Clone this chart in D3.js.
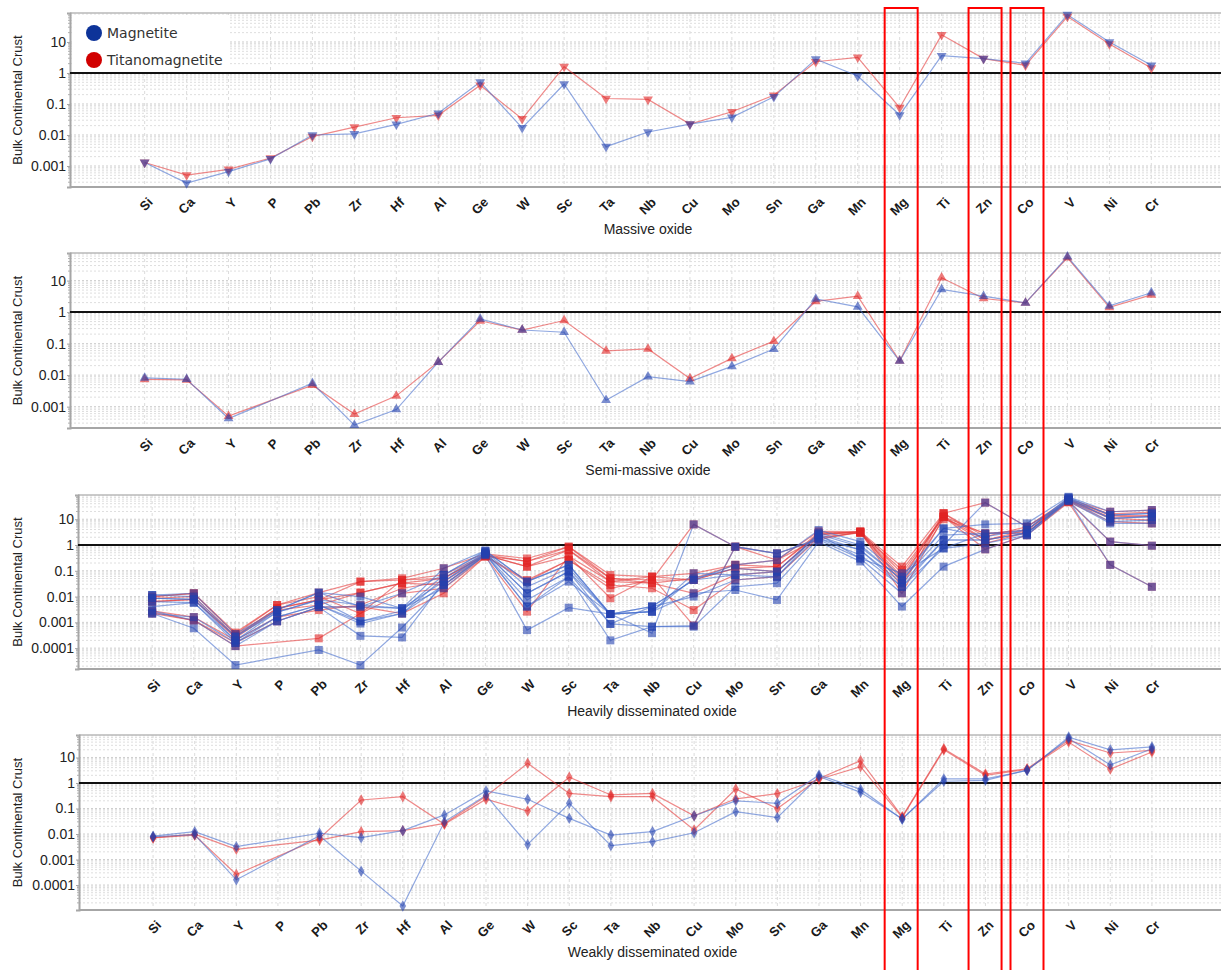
<!DOCTYPE html>
<html>
<head>
<meta charset="utf-8">
<script src="https://cdn.jsdelivr.net/npm/d3@7"></script>
<style>
  body { margin: 0; background: #fff; }
  svg { display: block; }
</style>
</head>
<body>
<svg id="chart" width="1221" height="970"></svg>
<script>
// Element order along the x axis
const elements = ["Si","Ca","Y","P","Pb","Zr","Hf","Al","Ge","W","Sc","Ta","Nb","Cu","Mo","Sn","Ga","Mn","Mg","Ti","Zn","Co","V","Ni","Cr"];

// Labelled ticks on the normalised (bulk continental crust) axis
const yTickValues = [0.0001, 0.001, 0.01, 0.1, 1, 10];
const yTickLabels = ["0.0001", "0.001", "0.01", "0.1", "1", "10"];

// Elements outlined across all panels
const highlighted = ["Mg", "Zn", "Co"];

// Panel titles
const panelTitles = ["Massive oxide", "Semi-massive oxide", "Heavily disseminated oxide", "Weakly disseminated oxide"];

// Legend
const seriesNames = ["Magnetite", "Titanomagnetite"];

// ---- Massive oxide ----
const massiveMagnetite = [
  [0.0013,0.00028,0.00066,0.0017,0.010,0.0108,0.022,0.050,0.51,0.017,0.44,0.0042,0.0125,0.0225,0.037,0.17,2.8,0.80,0.044,3.6,2.9,2.05,76,10,1.77]
];
const massiveTitanomagnetite = [
  [0.0013,0.00051,0.00078,0.0018,0.0089,0.018,0.036,0.043,0.40,0.033,1.6,0.15,0.14,0.0225,0.056,0.19,2.3,3.2,0.076,17,2.9,1.77,66,8.6,1.45]
];

// ---- Semi-massive oxide (no P value) ----
const semiMagnetite = [
  [0.0082,0.0074,0.00042,null,0.0055,0.00026,0.00081,0.026,0.61,0.27,0.23,0.0016,0.0089,0.0062,0.019,0.067,2.6,1.47,0.028,5.2,3.2,1.97,57,1.58,4.1]
];
const semiTitanomagnetite = [
  [0.0073,0.0071,0.0005,null,0.0048,0.00058,0.0022,0.026,0.53,0.27,0.54,0.059,0.068,0.0078,0.034,0.12,2.2,3.2,0.028,12.3,2.7,1.97,53,1.41,3.5]
];

// ---- Heavily disseminated oxide ----
const heavyMagnetite = [
  [0.0115,0.0134,0.00035,0.0030,0.0142,0.010,0.0035,0.125,0.60,0.038,0.17,0.0021,0.0041,0.044,0.17,0.26,3.8,1.35,0.059,4.4,6.3,6.9,74,19.5,22.7],
  [0.0086,0.0078,0.00028,0.0025,0.0074,0.0011,0.0028,0.069,0.55,0.024,0.125,0.0021,0.0026,0.051,0.125,0.093,2.6,0.86,0.044,2.4,2.8,3.8,66,14.5,16.8],
  [0.0064,0.0058,0.0002,0.0016,0.0047,0.0009,0.0022,0.051,0.50,0.0134,0.093,0.00087,0.0041,0.010,0.044,0.059,2.2,0.64,0.033,1.56,1.56,2.8,60,10.8,12.5],
  [0.0041,0.0058,0.00016,0.0011,0.0039,0.0003,0.00026,0.038,0.45,0.0074,0.059,0.0002,0.00068,0.00068,0.024,0.033,1.8,0.41,0.024,0.74,1.16,2.4,56,8.0,9.3],
  [0.0022,0.00059,0.000022,null,0.000085,0.000022,0.00063,0.028,0.40,0.0005,0.0037,0.0021,0.0026,0.0134,0.018,0.0074,1.35,0.23,0.0041,0.145,0.68,2.4,50,6.9,6.9],
  [0.0028,0.0012,0.00012,0.0011,0.0039,0.0041,0.0035,0.021,0.42,0.0041,0.038,0.0021,0.00038,6.3,0.86,0.47,1.6,0.30,0.0134,1.0,44,5.1,52,1.35,0.94],
  [0.0022,0.0016,0.00016,0.0016,0.0047,0.0011,0.0022,0.028,0.45,0.0041,0.059,0.00087,0.00068,0.00075,0.86,0.47,1.8,0.64,0.024,1.56,1.56,3.0,55,0.17,0.024],
  [0.0115,0.0100,0.00028,0.0030,0.0142,0.0041,0.0134,0.069,0.60,0.038,0.17,0.0021,0.0041,0.044,0.069,0.059,3.0,1.0,0.044,4.4,2.1,3.8,70,14.5,16.8],
  [0.0086,0.0078,0.0002,0.0025,0.0074,0.0047,0.0035,0.038,0.50,0.0134,0.093,0.0021,0.0026,0.08,0.069,0.093,2.6,0.30,0.08,0.74,2.8,2.8,62,10.8,12.5]
];
const heavyTitanomagnetite = [
  [0.0100,0.0134,0.0004,0.0047,0.0142,0.038,0.051,0.125,0.45,0.30,0.86,0.069,0.059,0.08,0.17,0.26,3.4,3.3,0.145,17,2.1,5.1,60,19.5,22.7],
  [0.0086,0.0100,0.0003,0.0035,0.0074,0.038,0.044,0.069,0.42,0.23,0.64,0.051,0.044,0.044,0.125,0.145,3.0,3.0,0.107,12.5,1.56,3.8,55,14.5,12.5],
  [0.0064,0.0078,0.00025,0.0030,0.0047,0.0142,0.033,0.051,0.40,0.145,0.37,0.038,0.033,0.0134,0.069,0.093,2.4,3.3,0.08,12.5,2.8,3.0,50,10.8,9.3],
  [0.0028,0.0016,0.0002,0.0016,0.0030,0.0047,0.021,0.038,0.38,0.044,0.26,0.028,0.021,0.003,0.044,0.059,2.0,3.0,0.059,12.5,1.16,3.0,48,8.0,6.9],
  [0.0025,0.0012,0.00012,null,0.00024,0.0022,0.0134,0.021,0.35,0.0026,0.37,0.0086,0.059,0.00075,0.86,0.47,1.6,3.3,0.0134,12.5,0.68,2.4,45,0.17,0.024],
  [0.0022,0.0012,0.00016,0.0011,0.0039,0.0041,0.0022,0.0134,0.36,0.038,0.26,0.021,0.044,6.3,0.86,0.26,1.8,3.0,0.024,17,44,5.1,48,1.35,0.94],
  [0.0064,0.0078,0.00028,0.0035,0.0074,0.0142,0.033,0.028,0.38,0.23,0.86,0.051,0.033,0.051,0.17,0.145,2.6,3.3,0.033,10,2.8,3.8,52,12,14],
  [0.0100,0.0134,0.00035,0.0047,0.0100,0.0022,0.044,0.051,0.40,0.145,0.64,0.038,0.059,0.044,0.125,0.093,2.8,3.0,0.044,17,1.56,3.0,55,16,19]
];

// ---- Weakly disseminated oxide (no P value) ----
const weakMagnetite = [
  [0.0082,0.0123,0.0032,null,0.0107,0.0072,0.0135,0.056,0.49,0.23,0.041,0.0091,0.0124,0.052,0.20,0.16,2.06,0.56,0.038,1.45,1.45,3.1,63,20,26],
  [0.0078,0.0095,0.00016,null,0.0086,0.00035,0.000015,0.030,0.33,0.0039,0.16,0.0035,0.005,0.0112,0.075,0.044,1.8,0.43,0.040,1.17,1.27,3.2,55,5.1,22]
];
const weakTitanomagnetite = [
  [0.0072,0.0098,0.0025,null,0.0058,0.0123,0.0135,0.026,0.30,5.9,0.39,0.29,0.29,0.0144,0.58,0.10,1.5,7.5,0.048,22,2.25,3.6,47,15,19],
  [0.0070,0.0090,0.00026,null,0.0068,0.215,0.29,0.024,0.23,0.080,1.67,0.34,0.39,0.052,0.24,0.38,1.4,4.4,0.044,20,2.0,3.4,40,3.5,16.3]
];

const panelData = [
  { title: panelTitles[0], magnetite: massiveMagnetite, titano: massiveTitanomagnetite },
  { title: panelTitles[1], magnetite: semiMagnetite, titano: semiTitanomagnetite },
  { title: panelTitles[2], magnetite: heavyMagnetite, titano: heavyTitanomagnetite },
  { title: panelTitles[3], magnetite: weakMagnetite, titano: weakTitanomagnetite }
];

// Layout for each panel
const panelLayout = [
  { left: 70, top: 13,  bottom: 187, yMin: 0.00021, yMax: 86, symbol: d3.symbolTriangle, rotate: 180, size: 42, legend: true },
  { left: 70, top: 253, bottom: 428, yMin: 0.00021, yMax: 75, symbol: d3.symbolTriangle, rotate: 0,   size: 42 },
  { left: 78, top: 495, bottom: 669, yMin: 0.0000155, yMax: 87, symbol: d3.symbolSquare, rotate: 0, size: 64 },
  { left: 79, top: 735, bottom: 910, yMin: 0.0000105, yMax: 76, symbol: d3.symbolDiamond, rotate: 0, size: 38 }
];
const plotRight = 1226;

const colors = {
  magLine: "rgba(70,110,205,0.6)",
  magMark: "rgba(35,65,175,0.6)",
  tiLine: "rgba(228,60,60,0.6)",
  tiMark: "rgba(225,35,35,0.6)",
  legendBlue: "#0d3399",
  legendRed: "#d10000"
};

const font = "'Liberation Sans', Arial, sans-serif";
const svg = d3.select("#chart");

let firstX = null;

panelData.forEach((panel, pi) => {
  const L = panelLayout[pi];
  const x = d3.scalePoint().domain(elements).range([L.left, plotRight]).padding(1.78);
  const y = d3.scaleLog().domain([L.yMin, L.yMax]).range([L.bottom, L.top]);
  if (pi === 0) firstX = x;

  const g = svg.append("g");

  // Horizontal log grid: decades and intermediate values
  const gridVals = [];
  for (let e = Math.floor(Math.log10(L.yMin)); e <= Math.ceil(Math.log10(L.yMax)); e++) {
    for (let k = 1; k <= 9; k++) {
      const v = k * Math.pow(10, e);
      if (v >= L.yMin && v <= L.yMax) gridVals.push({ v, major: k === 1 });
    }
  }
  g.append("g").selectAll("line").data(gridVals).join("line")
    .attr("x1", L.left).attr("x2", plotRight)
    .attr("y1", d => y(d.v)).attr("y2", d => y(d.v))
    .attr("stroke", d => d.major ? "#cfcfcf" : "#dedede")
    .attr("stroke-width", 1)
    .attr("stroke-dasharray", "2,2");

  // Vertical grid at each element
  g.append("g").selectAll("line").data(elements).join("line")
    .attr("x1", d => x(d)).attr("x2", d => x(d))
    .attr("y1", L.top).attr("y2", L.bottom)
    .attr("stroke", "#dcdcdc").attr("stroke-width", 1)
    .attr("stroke-dasharray", "3,3");

  // Frame: top border
  g.append("line").attr("x1", L.left).attr("x2", plotRight)
    .attr("y1", L.top).attr("y2", L.top)
    .attr("stroke", "#b8b8b8").attr("stroke-width", 1.5);

  // Y axis
  const ticks = yTickValues.map((v, i) => ({ v, label: yTickLabels[i] }))
    .filter(t => t.v >= L.yMin && t.v <= L.yMax);
  const yAxis = d3.axisLeft(y)
    .tickValues(ticks.map(t => t.v))
    .tickFormat(v => ticks.find(t => t.v === v).label)
    .tickSize(3).tickPadding(1);
  const ya = g.append("g").attr("transform", `translate(${L.left},0)`).call(yAxis);
  ya.select(".domain").attr("stroke", "#a6a6a6").attr("stroke-width", 2);
  ya.selectAll(".tick line").attr("stroke", "#a6a6a6");
  ya.selectAll(".tick text").attr("font-family", font).attr("font-size", 14).attr("fill", "#222");
  // Minor ticks
  g.append("g").selectAll("line").data(gridVals.filter(d => !d.major)).join("line")
    .attr("x1", L.left - 2).attr("x2", L.left)
    .attr("y1", d => y(d.v)).attr("y2", d => y(d.v))
    .attr("stroke", "#b0b0b0");

  // X axis line
  g.append("line").attr("x1", L.left).attr("x2", plotRight)
    .attr("y1", L.bottom).attr("y2", L.bottom)
    .attr("stroke", "#a6a6a6").attr("stroke-width", 2);

  // Element labels
  g.append("g").selectAll("text").data(elements).join("text")
    .attr("transform", d => `translate(${x(d) + 9},${L.bottom + 16}) rotate(-45)`)
    .attr("text-anchor", "end")
    .attr("font-family", font).attr("font-weight", "bold").attr("font-size", 13)
    .attr("fill", "#1a1a1a")
    .text(d => d);

  // Y axis title
  g.append("text")
    .attr("transform", `translate(22,${(L.top + L.bottom) / 2}) rotate(-90)`)
    .attr("text-anchor", "middle")
    .attr("font-family", font).attr("font-size", 13).attr("fill", "#222")
    .text("Bulk Continental Crust");

  // Panel title
  g.append("text")
    .attr("x", (L.left + plotRight) / 2)
    .attr("y", L.bottom + 47)
    .attr("text-anchor", "middle")
    .attr("font-family", font).attr("font-size", 14).attr("fill", "#222")
    .text(panel.title);

  // Reference line at 1
  g.append("line").attr("x1", L.left).attr("x2", plotRight)
    .attr("y1", y(1)).attr("y2", y(1))
    .attr("stroke", "#111").attr("stroke-width", 2);

  const toPoints = row => row.map((v, i) => ({ el: elements[i], v })).filter(d => d.v != null);
  const line = d3.line().x(d => x(d.el)).y(d => y(d.v));
  const sym = d3.symbol().type(L.symbol).size(L.size);

  const groups = [
    { rows: panel.titano, line: colors.tiLine, mark: colors.tiMark },
    { rows: panel.magnetite, line: colors.magLine, mark: colors.magMark }
  ];

  // Series lines
  groups.forEach(gr => {
    g.append("g").selectAll("path").data(gr.rows.map(toPoints)).join("path")
      .attr("d", line)
      .attr("fill", "none")
      .attr("stroke", gr.line)
      .attr("stroke-width", 1.2);
  });
  // Series markers
  groups.forEach(gr => {
    g.append("g").selectAll("path").data(gr.rows.flatMap(toPoints)).join("path")
      .attr("transform", d => `translate(${x(d.el)},${y(d.v)}) rotate(${L.rotate})`)
      .attr("d", sym)
      .attr("fill", gr.mark);
  });

  // Legend
  if (L.legend) {
    const lg = g.append("g");
    lg.append("rect").attr("x", L.left + 2).attr("y", L.top + 2)
      .attr("width", 158).attr("height", 56).attr("fill", "#fff");
    const items = [
      { name: seriesNames[0], color: colors.legendBlue },
      { name: seriesNames[1], color: colors.legendRed }
    ];
    items.forEach((it, i) => {
      lg.append("circle").attr("cx", L.left + 24).attr("cy", L.top + 20 + i * 27)
        .attr("r", 8).attr("fill", it.color);
      lg.append("text").attr("x", L.left + 37).attr("y", L.top + 25 + i * 27)
        .attr("font-family", "'DejaVu Sans', sans-serif").attr("font-size", 14)
        .attr("fill", "#333").text(it.name);
    });
  }
});

// Outlines around the highlighted elements, spanning all panels
svg.append("g").selectAll("rect").data(highlighted).join("rect")
  .attr("x", d => firstX(d) - 15)
  .attr("y", 8)
  .attr("width", 33)
  .attr("height", 975)
  .attr("fill", "none")
  .attr("stroke", "#ff0000")
  .attr("stroke-width", 2);
</script>
</body>
</html>
